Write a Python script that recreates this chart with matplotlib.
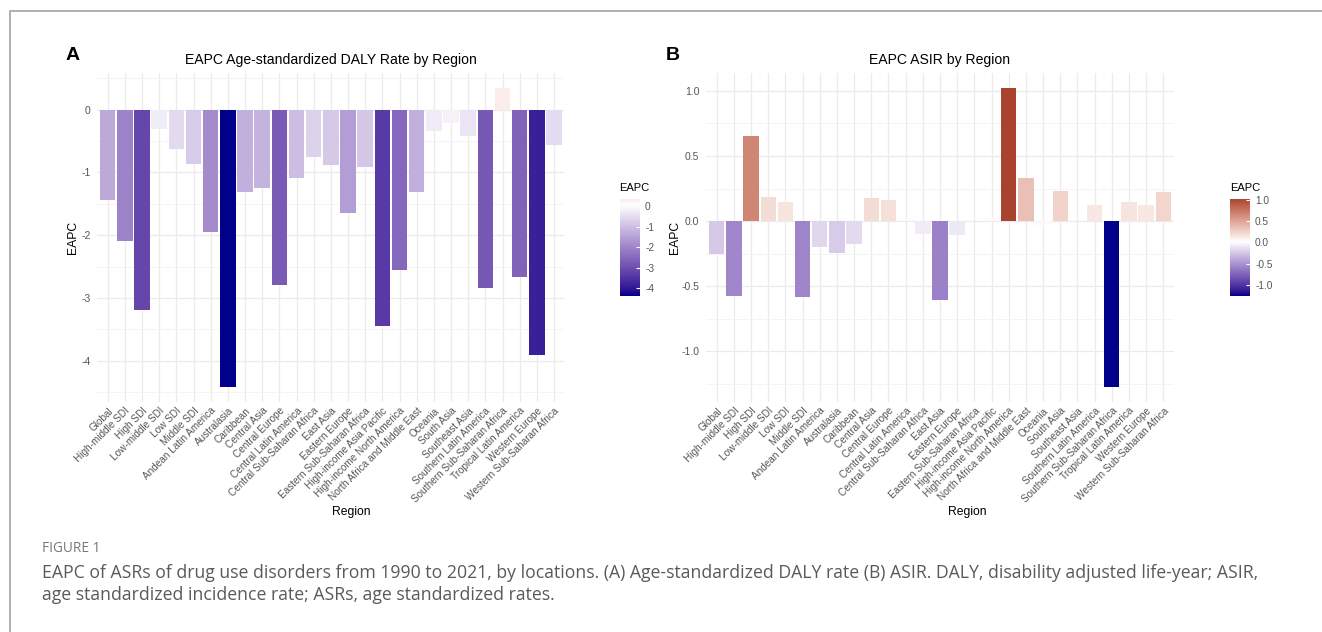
import numpy as np
import matplotlib
matplotlib.use('Agg')
import matplotlib.pyplot as plt
import matplotlib.colors as mcolors
from matplotlib.lines import Line2D
from matplotlib.ticker import MultipleLocator

# =========================
# DATA
# =========================
regions = [
    'Global', 'High-middle SDI', 'High SDI', 'Low-middle SDI', 'Low SDI', 'Middle SDI',
    'Andean Latin America', 'Australasia', 'Caribbean', 'Central Asia', 'Central Europe',
    'Central Latin America', 'Central Sub-Saharan Africa', 'East Asia', 'Eastern Europe',
    'Eastern Sub-Saharan Africa', 'High-income Asia Pacific', 'High-income North America',
    'North Africa and Middle East', 'Oceania', 'South Asia', 'Southeast Asia',
    'Southern Latin America', 'Southern Sub-Saharan Africa', 'Tropical Latin America',
    'Western Europe', 'Western Sub-Saharan Africa',
]

daly_eapc = [
    -1.44, -2.10, -3.19, -0.31, -0.62, -0.86,
    -1.95, -4.41, -1.31, -1.25, -2.80,
    -1.09, -0.75, -0.89, -1.64,
    -0.92, -3.44, -2.56,
    -1.32, -0.34, -0.21, -0.42,
    -2.84, 0.34, -2.66,
    -3.90, -0.57,
]

asir_eapc = [
    -0.256, -0.578, 0.65, 0.187, 0.148, -0.586,
    -0.197, -0.248, -0.176, 0.179, 0.159,
    0.02, -0.097, -0.606, -0.107,
    0.004, 0.025, 1.02,
    0.332, -0.033, 0.23, 0.003,
    0.12, -1.27, 0.148,
    0.12, 0.22,
]

daly_ticks = [-4, -3, -2, -1, 0]
asir_ticks = [-1.0, -0.5, 0.0, 0.5, 1.0]

# =========================
# THEME SETTINGS
# =========================
LOW_COLOR = '#00008B'    # darkblue
MID_COLOR = '#FFFFFF'
HIGH_COLOR = '#8B0000'   # darkred
GRID_MAJOR = '#EBEBEB'
GRID_MINOR = '#F3F3F3'
TICK_COLOR = '#555555'
CAPTION_COLOR = '#5A5A5A'

plt.rcParams['font.family'] = ['Liberation Sans', 'DejaVu Sans']
plt.rcParams['axes.unicode_minus'] = False

W, H = 1322, 632

# ggplot-style diverging gradient, interpolated in CIELAB
M_RGB2XYZ = np.array([[0.4124, 0.3576, 0.1805],
                      [0.2126, 0.7152, 0.0722],
                      [0.0193, 0.1192, 0.9505]])
WHITE_PT = np.array([0.95047, 1.0, 1.08883])


def to_lab(c):
    rgb = np.array(mcolors.to_rgb(c))
    lin = np.where(rgb <= 0.04045, rgb / 12.92, ((rgb + 0.055) / 1.055) ** 2.4)
    xyz = M_RGB2XYZ @ lin / WHITE_PT
    f = np.where(xyz > 0.008856, np.cbrt(xyz), 7.787 * xyz + 16 / 116)
    return np.array([116 * f[1] - 16, 500 * (f[0] - f[1]), 200 * (f[1] - f[2])])


def from_lab(lab):
    fy = (lab[0] + 16) / 116
    f = np.array([fy + lab[1] / 500, fy, fy - lab[2] / 200])
    xyz = np.where(f ** 3 > 0.008856, f ** 3, (f - 16 / 116) / 7.787) * WHITE_PT
    lin = np.clip(np.linalg.solve(M_RGB2XYZ, xyz), 0, None)
    rgb = np.where(lin <= 0.0031308, 12.92 * lin, 1.055 * lin ** (1 / 2.4) - 0.055)
    return np.clip(rgb, 0, 1)


lab_low, lab_mid, lab_high = to_lab(LOW_COLOR), to_lab(MID_COLOR), to_lab(HIGH_COLOR)
cmap_colors = []
for t in np.linspace(0, 1, 256):
    if t < 0.5:
        lab = lab_low + (lab_mid - lab_low) * (t / 0.5)
    else:
        lab = lab_mid + (lab_high - lab_mid) * ((t - 0.5) / 0.5)
    cmap_colors.append(from_lab(lab))
CMAP = mcolors.ListedColormap(cmap_colors)


def draw_panel(ax, cax, values, ticks, minor_step, title, letter, letter_x,
               label_x, ylabel_x, tick_fmt):
    values = np.asarray(values)
    m = np.abs(values).max()
    norm = mcolors.Normalize(-m, m)
    x = np.arange(len(regions))

    ax.bar(x, values, width=0.9, color=CMAP(norm(values)), zorder=2)

    ax.set_xlim(-0.6, len(regions) - 0.4)
    lo, hi = min(values.min(), 0), max(values.max(), 0)
    span = hi - lo
    ax.set_ylim(lo - 0.05 * span, hi + 0.05 * span)

    for s in ax.spines.values():
        s.set_visible(False)

    ax.set_xticks(x)
    ax.set_xticklabels(regions, rotation=45, ha='right', va='top',
                       rotation_mode='anchor', fontsize=7.2, color=TICK_COLOR)
    ax.set_yticks(ticks)
    ax.set_yticklabels([tick_fmt.format(t) for t in ticks], fontsize=7.5, color=TICK_COLOR)
    ax.yaxis.set_minor_locator(MultipleLocator(minor_step))
    ax.tick_params(axis='both', which='both', length=0)
    ax.tick_params(axis='y', pad=5)
    ax.tick_params(axis='x', pad=3)

    ax.grid(which='major', color=GRID_MAJOR, linewidth=0.9, zorder=0)
    ax.grid(which='minor', axis='y', color=GRID_MINOR, linewidth=0.6, zorder=0)
    ax.set_axisbelow(True)

    ax.set_title(title, fontsize=10.1, pad=7)
    ax.set_ylabel('EAPC', fontsize=8.7)
    ax.set_xlabel('Region', fontsize=8.7)
    ax.xaxis.set_label_coords(label_x, -0.318)
    ax.yaxis.set_label_coords(ylabel_x, 0.5)

    fig.text(letter_x / W, 1 - 55 / H, letter, fontsize=14, weight='bold',
             ha='left', va='center')

    # colour bar legend
    vmin, vmax = values.min(), values.max()
    grad = np.linspace(vmax, vmin, 256)[:, None]
    cax.imshow(grad, cmap=CMAP, norm=norm, aspect='auto',
               extent=[0, 1, vmin, vmax], origin='upper')
    cax.set_ylim(vmin, vmax)
    cax.set_xticks([])
    cax.yaxis.tick_right()
    cax.set_yticks(ticks)
    cax.set_yticklabels([tick_fmt.format(t) for t in ticks], fontsize=7.3, color=TICK_COLOR)
    cax.tick_params(axis='y', direction='in', length=3, color='white', pad=4)
    for s in cax.spines.values():
        s.set_visible(False)
    cax.text(0, 1.06, 'EAPC', transform=cax.transAxes, fontsize=8,
             ha='left', va='bottom')


fig = plt.figure(figsize=(W / 100, H / 100), dpi=100)
fig.patch.set_facecolor('white')

ax_a = fig.add_axes([97.4 / W, 1 - 401.5 / H, 466.9 / W, 328.2 / H])
cax_a = fig.add_axes([619.5 / W, 1 - 296.5 / H, 20 / W, 97.5 / H])
ax_b = fig.add_axes([706.4 / W, 1 - 401.5 / H, 467.2 / W, 328.2 / H])
cax_b = fig.add_axes([1230 / W, 1 - 296.5 / H, 19.5 / W, 97.5 / H])

draw_panel(ax_a, cax_a, daly_eapc, daly_ticks, 0.5,
           'EAPC Age-standardized DALY Rate by Region', 'A', 66, 0.543, -0.040, '{:g}')
draw_panel(ax_b, cax_b, asir_eapc, asir_ticks, 0.25,
           'EAPC ASIR by Region', 'B', 666, 0.558, -0.054, '{:.1f}')

# page frame (top and left rule)
fig.add_artist(Line2D([9.5 / W, 9.5 / W, 1.0], [0.0, 1 - 11 / H, 1 - 11 / H],
                      transform=fig.transFigure, color='#AAAAAA', linewidth=1.3))

# caption
fig.text(42 / W, 1 - 548 / H, 'FIGURE 1', fontsize=9.8, color='#777777',
         family='Open Sans', ha='left', va='center')
fig.text(42 / W, 1 - 573 / H,
         'EAPC of ASRs of drug use disorders from 1990 to 2021, by locations. (A) Age-standardized '
         'DALY rate (B) ASIR. DALY, disability adjusted life-year; ASIR,',
         fontsize=12.7, color=CAPTION_COLOR, family='Open Sans', ha='left', va='center')
fig.text(42 / W, 1 - 595 / H, 'age standardized incidence rate; ASRs, age standardized rates.',
         fontsize=12.7, color=CAPTION_COLOR, family='Open Sans', ha='left', va='center')

fig.savefig('out.png', dpi=100)
